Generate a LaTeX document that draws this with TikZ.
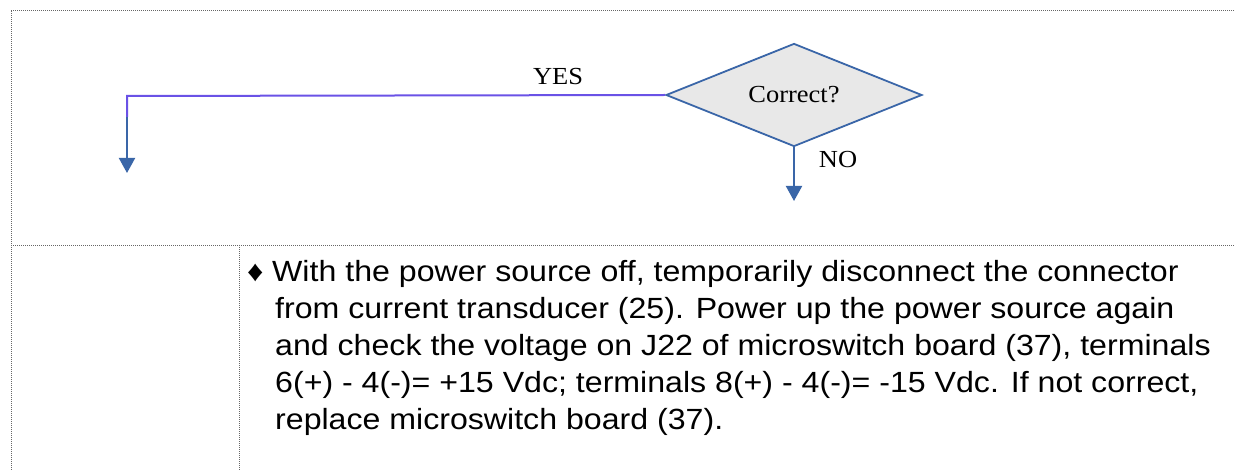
\documentclass[tikz,border=0pt]{standalone}
\usepackage{fontspec}
\setmainfont{Liberation Serif}
\newfontfamily\timesfont[FakeStretch=1.08]{Liberation Serif}
\newfontfamily\arialfont[FakeStretch=1.1]{Liberation Sans}
\usetikzlibrary{shapes.geometric,arrows.meta}
\definecolor{flowblue}{HTML}{3A66A8}
\definecolor{yespurple}{HTML}{6A52E6}
\definecolor{dfill}{HTML}{E8E8E8}
\begin{document}
\begin{tikzpicture}[x=1pt,y=-1pt,
  frame/.style={line width=0.9pt, draw=black!60, dash pattern=on 1pt off 1pt},
  decision/.style={diamond, draw=flowblue, fill=dfill, line width=1.8pt, minimum width=256pt, minimum height=103pt, inner sep=0pt, aspect=2.49, font=\timesfont\fontsize{24.5}{30}\selectfont},
  lbl/.style={font=\timesfont\fontsize{24.5}{30}\selectfont, inner sep=0pt},
  body/.style={font=\arialfont\fontsize{29.2}{36}\selectfont, anchor=base west, inner sep=0pt},
  flow/.style={line width=2pt, draw=flowblue},
  tip/.style={-{Triangle[width=16pt,length=15pt]}}
]
\useasboundingbox (0,0) rectangle (1234,470);
\draw[frame] (11,470) -- (11,10) -- (1234,10);
\draw[frame] (11,245) -- (1234,245);
\draw[frame] (239,245) -- (239,470);
\node[decision] (dec) at (794,95) {Correct?};
\coordinate (corner) at (127,96);
\coordinate (ybend) at (127,117);
\coordinate (yend) at (127,173);
\coordinate (nend) at (794,201);
\draw[line width=2pt, draw=yespurple] (dec.west) -- (corner) -- (ybend);
\draw[flow, tip, flowblue] (ybend) -- (yend);
\draw[flow, tip, flowblue] (dec.south) -- (nend);
\node[lbl] (yes) at (558,77) {YES};
\node[lbl] (no) at (838,160) {NO};
\node[body] (l1) at (272,282) {\llap{♦\hspace{0.3em}}With the power source off, temporarily disconnect the connector};
\node[body] (l2) at (275,318.8) {from current transducer (25). Power up the power source again};
\node[body] (l3) at (275,355.6) {and check the voltage on J22 of microswitch board (37), terminals};
\node[body] (l4) at (275,392.4) {6(+) - 4(-)= +15 Vdc; terminals 8(+) - 4(-)= -15 Vdc. If not correct,};
\node[body] (l5) at (275,429.2) {replace microswitch board (37).};
\end{tikzpicture}
\end{document}
